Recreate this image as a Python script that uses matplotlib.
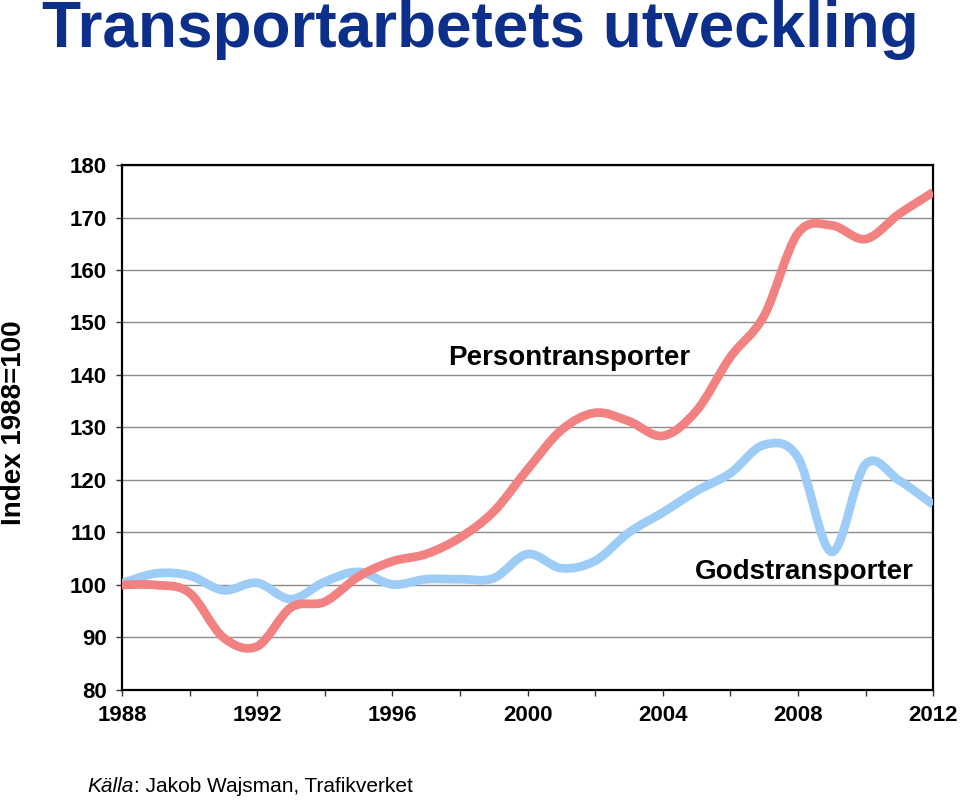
import matplotlib
matplotlib.use("Agg")
import matplotlib.pyplot as plt
from matplotlib.path import Path
from matplotlib.patches import PathPatch

# Index values 1988=100
years = list(range(1988, 2013))
person = [100, 100, 98.5, 90, 88.3, 95.7, 96.8, 101.6, 104.5, 105.9, 109,
          114, 122, 129.5, 132.8, 131.2, 128.4, 133.2, 143.4, 151.3, 167,
          168.5, 165.9, 170.7, 174.8]
gods = [100.3, 102.2, 101.8, 99, 100.4, 97.3, 100.6, 102.5, 100.1, 101.1, 101.1,
        101.3, 105.9, 103.2, 104.6, 110, 113.8, 117.9, 121.3, 126.7, 124.3,
        106.3, 123, 119.9, 115.3]

yticks = list(range(80, 181, 10))
xlabels = [1988, 1992, 1996, 2000, 2004, 2008, 2012]

plt.rcParams['font.family'] = ['Liberation Sans', 'DejaVu Sans']


def smooth_path(xs, ys):
    # Excel-style smoothed line: cubic Bezier through every point
    n = len(xs)
    verts = [(xs[0], ys[0])]
    codes = [Path.MOVETO]
    for i in range(n - 1):
        x0, y0 = (xs[i - 1], ys[i - 1]) if i > 0 else (xs[i], ys[i])
        x1, y1 = xs[i], ys[i]
        x2, y2 = xs[i + 1], ys[i + 1]
        x3, y3 = (xs[i + 2], ys[i + 2]) if i + 2 < n else (x2, y2)
        c1 = (x1 + (x2 - x0) / 6, y1 + (y2 - y0) / 6)
        c2 = (x2 - (x3 - x1) / 6, y2 - (y3 - y1) / 6)
        verts += [c1, c2, (x2, y2)]
        codes += [Path.CURVE4] * 3
    return Path(verts, codes)


fig = plt.figure(figsize=(9.6, 8.01), dpi=100)
ax = fig.add_axes([0.127, 0.1386, 0.845, 0.6554])

for ys, col in [(gods, '#9dcdf6'), (person, '#f28282')]:
    patch = PathPatch(smooth_path(years, ys), facecolor='none', edgecolor=col,
                      lw=6.3, capstyle='butt', joinstyle='round', zorder=3)
    ax.add_patch(patch)

ax.set_xlim(1988, 2012)
ax.set_ylim(80, 180)
ax.set_yticks(yticks)
ax.set_xticks(range(1988, 2013, 2))
ax.set_xticklabels([str(y) if y in xlabels else '' for y in range(1988, 2013, 2)])
ax.grid(axis='y', color='#8c8c8c', lw=1)
ax.set_axisbelow(True)
for s in ax.spines.values():
    s.set_color('black')
    s.set_linewidth(1.6)
ax.tick_params(axis='both', direction='out', length=4, width=1, labelsize=16,
               color='#333333')
for lab in ax.get_xticklabels() + ax.get_yticklabels():
    lab.set_fontweight('bold')
ax.tick_params(axis='y', pad=7)
ax.tick_params(axis='x', pad=7)

ax.text(2001.23, 143.2, 'Persontransporter', ha='center', va='center',
        fontsize=20, fontweight='bold')
ax.text(2008.2, 102.5, 'Godstransporter', ha='center', va='center',
        fontsize=20, fontweight='bold')

fig.text(0.001, 0.472, 'Index 1988=100', rotation=90, ha='left', va='center',
         fontsize=20, fontweight='bold')

fig.text(0.5, 0.962, 'Transportarbetets utveckling', ha='center', va='center',
         fontsize=46, fontweight='bold', color='#0b2f8a')

fig.text(0.091, 0.018, 'Källa', ha='left', va='center', fontsize=15,
         style='italic')
fig.text(0.1395, 0.018, ': Jakob Wajsman, Trafikverket', ha='left', va='center',
         fontsize=15)

fig.savefig('out.png', dpi=100)
